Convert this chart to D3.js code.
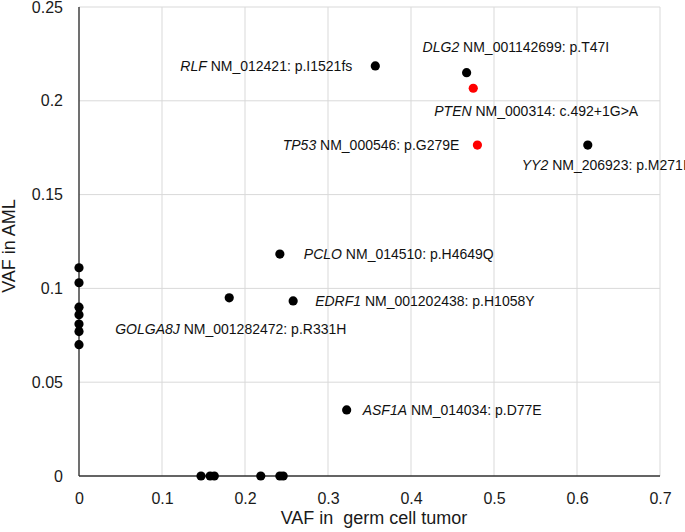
<!DOCTYPE html>
<html><head><meta charset="utf-8">
<script src="https://cdn.jsdelivr.net/npm/d3@7"></script>
<style>body{margin:0;background:#fff}svg{display:block}text{font-family:"Liberation Sans",Arial,Helvetica,sans-serif}</style>
</head><body><svg id="c" width="685" height="532"></svg>
<script>
// ---- data ----
const xTicks = [0, 0.1, 0.2, 0.3, 0.4, 0.5, 0.6, 0.7];
const yTicks = [0, 0.05, 0.1, 0.15, 0.2, 0.25];
const yTickLabels = ["0", "0.05", "0.1", "0.15", "0.2", "0.25"];
const xTickLabels = ["0", "0.1", "0.2", "0.3", "0.4", "0.5", "0.6", "0.7"];
// unlabeled points (VAF germ cell tumor, VAF AML)
const plainX = [0, 0, 0, 0, 0, 0, 0, 0.147, 0.158, 0.163, 0.219, 0.242, 0.246];
const plainY = [0.111, 0.103, 0.090, 0.086, 0.081, 0.077, 0.070, 0, 0, 0, 0, 0, 0];
// labeled points
const geneNames = ["RLF", "DLG2", "PTEN", "TP53", "YY2", "PCLO", "GOLGA8J", "EDRF1", "ASF1A"];
const geneVariants = ["NM_012421: p.I1521fs", "NM_001142699: p.T47I", "NM_000314: c.492+1G>A",
  "NM_000546: p.G279E", "NM_206923: p.M271I", "NM_014510: p.H4649Q", "NM_001282472: p.R331H",
  "NM_001202438: p.H1058Y", "NM_014034: p.D77E"];
const geneX = [0.357, 0.467, 0.475, 0.480, 0.613, 0.242, 0.181, 0.258, 0.3225];
const geneY = [0.2186, 0.215, 0.2067, 0.1764, 0.1764, 0.1183, 0.095, 0.0933, 0.0352];
const geneRed = [false, false, true, true, false, false, false, false, false];
const xTitle = "VAF in  germ cell tumor";
const yTitle = "VAF in AML";

// ---- layout (label offsets from point, text anchor) ----
const labelLayout = [
  {dx: -23, dy: 0, anchor: "end"},
  {dx: -44, dy: -26, anchor: "start"},
  {dx: -39, dy: 23, anchor: "start"},
  {dx: -18, dy: 0, anchor: "end"},
  {dx: -66, dy: 20, anchor: "start"},
  {dx: 24, dy: 0, anchor: "start"},
  {dx: -114, dy: 31, anchor: "start"},
  {dx: 22, dy: 0, anchor: "start"},
  {dx: 16, dy: 0, anchor: "start"}
];

const svg = d3.select("#c");
const L = 79, R = 660, T = 7, B = 476;
const x = d3.scaleLinear().domain([0, 0.7]).range([L, R]);
const y = d3.scaleLinear().domain([0, 0.25]).range([B, T]);

// grid
const g = svg.append("g");
g.selectAll("line.vx").data(xTicks.slice(1)).join("line")
  .attr("x1", d => x(d)).attr("x2", d => x(d)).attr("y1", T).attr("y2", B)
  .attr("stroke", "#d9d9d9").attr("stroke-width", 1);
g.selectAll("line.hy").data(yTicks.slice(1)).join("line")
  .attr("y1", d => y(d)).attr("y2", d => y(d)).attr("x1", L).attr("x2", R)
  .attr("stroke", "#d9d9d9").attr("stroke-width", 1);

// axes
const xAxis = d3.axisBottom(x).tickValues(xTicks).tickSize(0).tickPadding(17)
  .tickFormat((d, i) => xTickLabels[i]);
const yAxis = d3.axisLeft(y).tickValues(yTicks).tickSize(0).tickPadding(16)
  .tickFormat((d, i) => yTickLabels[i]);
const gx = svg.append("g").attr("transform", `translate(0,${B})`).call(xAxis);
const gy = svg.append("g").attr("transform", `translate(${L},0)`).call(yAxis);
[gx, gy].forEach(a => {
  a.select(".domain").remove();
  a.selectAll("text").attr("font-family", '"Liberation Sans",Arial,sans-serif')
    .attr("font-size", 16).attr("fill", "#1a1a1a");
});
svg.append("line").attr("x1", L).attr("x2", L).attr("y1", T).attr("y2", B)
  .attr("stroke", "#404040").attr("stroke-width", 1.5);
svg.append("line").attr("x1", L).attr("x2", R).attr("y1", B).attr("y2", B)
  .attr("stroke", "#303030").attr("stroke-width", 1.5);

// titles
svg.append("text").attr("x", 374).attr("y", 524).attr("text-anchor", "middle")
  .style("white-space", "pre")
  .attr("font-size", 18).attr("fill", "#1a1a1a").text(xTitle);
svg.append("text").attr("transform", `translate(14.5,246) rotate(-90)`)
  .attr("text-anchor", "middle").attr("font-size", 18).attr("fill", "#1a1a1a").text(yTitle);

// points
const plain = plainX.map((v, i) => ({x: v, y: plainY[i]}));
svg.selectAll("circle.p").data(plain).join("circle")
  .attr("cx", d => x(d.x)).attr("cy", d => y(d.y)).attr("r", 4.6).attr("fill", "#000");

const genes = geneNames.map((n, i) => ({name: n, variant: geneVariants[i], x: geneX[i], y: geneY[i], red: geneRed[i], lay: labelLayout[i]}));
svg.selectAll("circle.g").data(genes).join("circle")
  .attr("cx", d => x(d.x)).attr("cy", d => y(d.y)).attr("r", 4.6)
  .attr("fill", d => d.red ? "#ff0000" : "#000");

const lbl = svg.selectAll("text.lbl").data(genes).join("text")
  .attr("class", "lbl")
  .attr("x", d => x(d.x) + d.lay.dx).attr("y", d => y(d.y) + d.lay.dy)
  .attr("dy", "0.35em").attr("text-anchor", d => d.lay.anchor)
  .attr("font-size", 14).attr("fill", "#111");
lbl.append("tspan").attr("font-style", "italic").text(d => d.name);
lbl.append("tspan").text(d => " " + d.variant);
</script></body></html>
